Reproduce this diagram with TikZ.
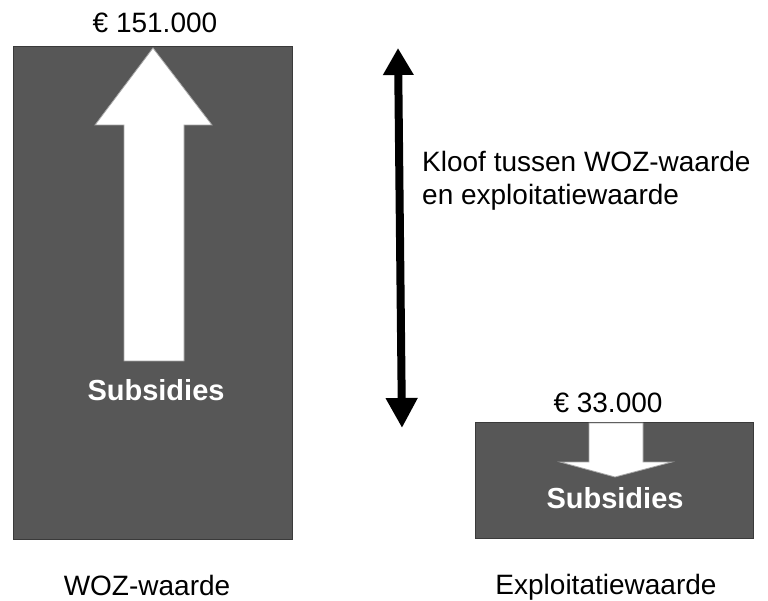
\documentclass[tikz,border=0pt]{standalone}
\usepackage{fontspec}
\setmainfont{Liberation Sans}
\usetikzlibrary{arrows.meta}
\definecolor{boxgray}{HTML}{575757}
\definecolor{edgegray}{HTML}{3A3A3A}
\tikzset{
  lbl/.style={inner sep=0pt, anchor=base, font=\fontsize{28}{33}\selectfont, text=black},
  sublbl/.style={inner sep=0pt, anchor=base, font=\fontsize{29}{33}\selectfont\bfseries, text=white},
  valbox/.style={fill=boxgray, draw=edgegray, line width=1pt},
  whitearrow/.style={fill=white, draw=gray!70, line width=0.8pt, line join=miter},
  gaparrow/.style={line width=8pt, {Triangle[width=29pt,length=27pt]}-{Triangle[width=30pt,length=30pt]}}
}
\begin{document}
\begin{tikzpicture}[x=1pt,y=-1pt]
\useasboundingbox (0,0) rectangle (768,601);
% boxes
\draw[valbox] (13,47) rectangle (292,539);
\draw[valbox] (475,422) rectangle (753,538);
% big arrow up
\draw[whitearrow] (153,48) -- (212,125) -- (184,125) -- (184,361) -- (124,361) -- (124,125) -- (95,125) -- cycle;
% small arrow down
\draw[whitearrow] (589,423) -- (643,423) -- (643,462) -- (672,462) -- (615,477) -- (560,462) -- (589,462) -- cycle;
% texts
\node[lbl] (v1) at (155,33) {€ 151.000};
\node[lbl] (v2) at (608,412) {€ 33.000};
\node[sublbl] (s1) at (156,400) {Subsidies};
\node[sublbl] (s2) at (615,508) {Subsidies};
\node[lbl] (w1) at (147,595) {WOZ-waarde};
\node[lbl] (w2) at (606,594) {Exploitatiewaarde};
\node[lbl, anchor=base west] (kl1) at (422,172) {Kloof tussen WOZ-waarde};
\node[lbl, anchor=base west] (kl2) at (422,205) {en exploitatiewaarde};
% gap arrow
\coordinate (gtop) at (398,48);
\coordinate (gbot) at (402,428);
\draw[gaparrow] (gtop) -- (gbot);
\end{tikzpicture}
\end{document}
